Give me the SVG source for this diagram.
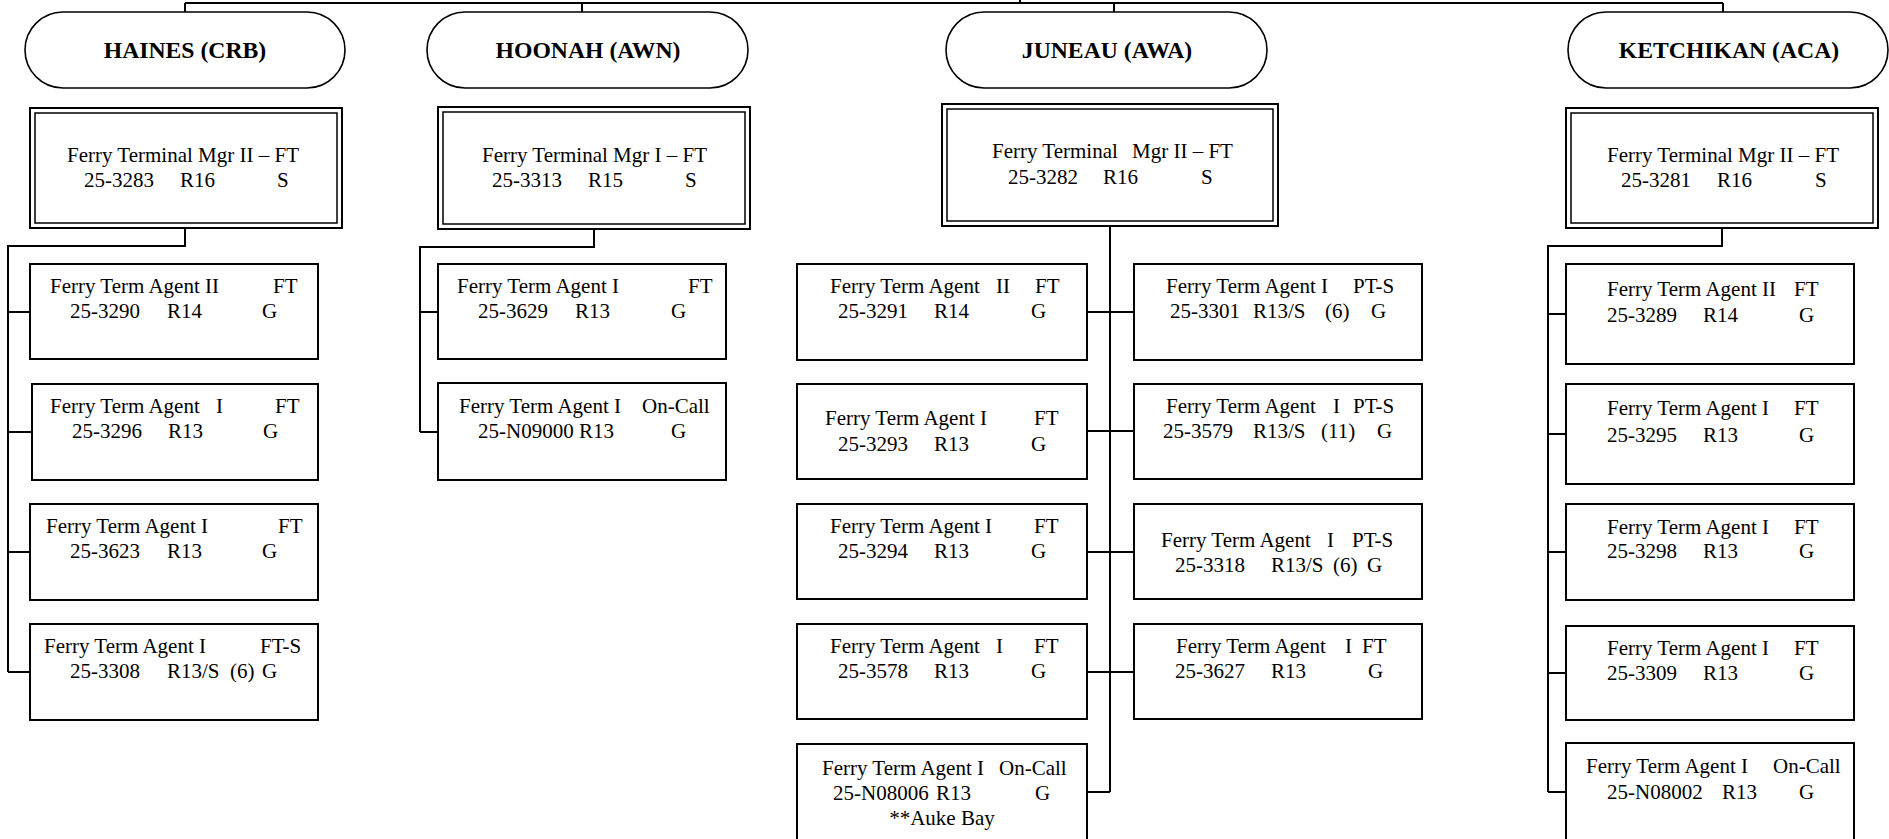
<svg xmlns="http://www.w3.org/2000/svg" width="1889" height="839" viewBox="0 0 1889 839">
<style>
.bg{fill:#fff}
.pill{fill:#fff;stroke:#000;stroke-width:1.6}
.box{fill:#fff;stroke:#000;stroke-width:2}
.dbl{fill:#fff;stroke:#000;stroke-width:2}
.dbli{fill:none;stroke:#000;stroke-width:1.5}
.ln{fill:none;stroke:#000;stroke-width:2}
text{font-family:"Liberation Serif","Times New Roman",serif;font-size:21px;fill:#000}
.hd{font-weight:bold;font-size:23.7px;text-anchor:middle}
</style>
<rect class="bg" x="0" y="0" width="1889" height="839"/>
<g id="connectors">
<path class="ln" d="M185,3 H1723 M1020,0 V3 M185,3 V12 M582,3 V12 M1114,3 V12 M1723,3 V12"/>
<path class="ln" d="M185,228 V246 H8 V672 M8,312 H30 M8,432 H32 M8,552 H30 M8,672 H30"/>
<path class="ln" d="M594,229 V247 H420 V432 M420,312 H438 M420,432 H438"/>
<path class="ln" d="M1110,226 V792 M1087,312 H1134 M1087,431 H1134 M1087,552 H1134 M1087,672 H1134 M1087,792 H1110"/>
<path class="ln" d="M1722,228 V246 H1548 V792 M1548,314 H1566 M1548,434 H1566 M1548,552 H1566 M1548,673 H1566 M1548,792 H1566"/>
</g>
<g id="haines">
<rect class="pill" x="25" y="12" width="320" height="76" rx="38"/>
<text class="hd" x="185" y="58">HAINES (CRB)</text>
</g>
<g id="haines-mgr">
<rect class="dbl" x="30" y="108" width="312" height="120"/>
<rect class="dbli" x="35" y="113" width="302" height="110"/>
<text x="67" y="162">Ferry Terminal Mgr II – FT</text>
<text y="187"><tspan x="84">25-3283</tspan><tspan x="180">R16</tspan><tspan x="277">S</tspan></text>
</g>
<g id="haines-3290">
<rect class="box" x="30" y="264" width="288" height="95"/>
<text y="293"><tspan x="50">Ferry Term Agent II</tspan><tspan x="273">FT</tspan></text>
<text y="318"><tspan x="70">25-3290</tspan><tspan x="167">R14</tspan><tspan x="262">G</tspan></text>
</g>
<g id="haines-3296">
<rect class="box" x="32" y="384" width="286" height="96"/>
<text y="413"><tspan x="50">Ferry Term Agent</tspan><tspan x="216">I</tspan><tspan x="275">FT</tspan></text>
<text y="438"><tspan x="72">25-3296</tspan><tspan x="168">R13</tspan><tspan x="263">G</tspan></text>
</g>
<g id="haines-3623">
<rect class="box" x="30" y="504" width="288" height="96"/>
<text y="533"><tspan x="46">Ferry Term Agent I</tspan><tspan x="278">FT</tspan></text>
<text y="558"><tspan x="70">25-3623</tspan><tspan x="167">R13</tspan><tspan x="262">G</tspan></text>
</g>
<g id="haines-3308">
<rect class="box" x="30" y="624" width="288" height="96"/>
<text y="653"><tspan x="44">Ferry Term Agent I</tspan><tspan x="260">FT-S</tspan></text>
<text y="678"><tspan x="70">25-3308</tspan><tspan x="167">R13/S</tspan><tspan x="230">(6)</tspan><tspan x="262">G</tspan></text>
</g>
<g id="hoonah">
<rect class="pill" x="427" y="12" width="321" height="76" rx="38"/>
<text class="hd" x="588" y="58">HOONAH (AWN)</text>
</g>
<g id="hoonah-mgr">
<rect class="dbl" x="438" y="107" width="312" height="122"/>
<rect class="dbli" x="443" y="112" width="302" height="112"/>
<text x="482" y="162">Ferry Terminal Mgr I – FT</text>
<text y="187"><tspan x="492">25-3313</tspan><tspan x="588">R15</tspan><tspan x="685">S</tspan></text>
</g>
<g id="hoonah-3629">
<rect class="box" x="438" y="264" width="288" height="95"/>
<text y="293"><tspan x="457">Ferry Term Agent I</tspan><tspan x="688">FT</tspan></text>
<text y="318"><tspan x="478">25-3629</tspan><tspan x="575">R13</tspan><tspan x="671">G</tspan></text>
</g>
<g id="hoonah-n09000">
<rect class="box" x="438" y="383" width="288" height="97"/>
<text y="413"><tspan x="459">Ferry Term Agent I</tspan><tspan x="642">On-Call</tspan></text>
<text y="438"><tspan x="478">25-N09000 R13</tspan><tspan x="671">G</tspan></text>
</g>
<g id="juneau">
<rect class="pill" x="946" y="12" width="321" height="76" rx="38"/>
<text class="hd" x="1107" y="58">JUNEAU (AWA)</text>
</g>
<g id="juneau-mgr">
<rect class="dbl" x="942" y="104" width="336" height="122"/>
<rect class="dbli" x="947" y="109" width="326" height="112"/>
<text y="158"><tspan x="992">Ferry Terminal</tspan><tspan x="1132">Mgr II – FT</tspan></text>
<text y="184"><tspan x="1008">25-3282</tspan><tspan x="1103">R16</tspan><tspan x="1201">S</tspan></text>
</g>
<g id="juneau-3291">
<rect class="box" x="797" y="264" width="290" height="96"/>
<text y="293"><tspan x="830">Ferry Term Agent</tspan><tspan x="996">II</tspan><tspan x="1035">FT</tspan></text>
<text y="318"><tspan x="838">25-3291</tspan><tspan x="934">R14</tspan><tspan x="1031">G</tspan></text>
</g>
<g id="juneau-3301">
<rect class="box" x="1134" y="264" width="288" height="96"/>
<text y="293"><tspan x="1166">Ferry Term Agent I</tspan><tspan x="1353">PT-S</tspan></text>
<text y="318"><tspan x="1170">25-3301</tspan><tspan x="1253">R13/S</tspan><tspan x="1325">(6)</tspan><tspan x="1371">G</tspan></text>
</g>
<g id="juneau-3293">
<rect class="box" x="797" y="384" width="290" height="95"/>
<text y="425"><tspan x="825">Ferry Term Agent I</tspan><tspan x="1034">FT</tspan></text>
<text y="451"><tspan x="838">25-3293</tspan><tspan x="934">R13</tspan><tspan x="1031">G</tspan></text>
</g>
<g id="juneau-3579">
<rect class="box" x="1134" y="384" width="288" height="95"/>
<text y="413"><tspan x="1166">Ferry Term Agent</tspan><tspan x="1333">I</tspan><tspan x="1353">PT-S</tspan></text>
<text y="438"><tspan x="1163">25-3579</tspan><tspan x="1253">R13/S</tspan><tspan x="1321">(11)</tspan><tspan x="1377">G</tspan></text>
</g>
<g id="juneau-3294">
<rect class="box" x="797" y="504" width="290" height="95"/>
<text y="533"><tspan x="830">Ferry Term Agent I</tspan><tspan x="1034">FT</tspan></text>
<text y="558"><tspan x="838">25-3294</tspan><tspan x="934">R13</tspan><tspan x="1031">G</tspan></text>
</g>
<g id="juneau-3318">
<rect class="box" x="1134" y="504" width="288" height="95"/>
<text y="547"><tspan x="1161">Ferry Term Agent</tspan><tspan x="1327">I</tspan><tspan x="1352">PT-S</tspan></text>
<text y="572"><tspan x="1175">25-3318</tspan><tspan x="1271">R13/S</tspan><tspan x="1333">(6)</tspan><tspan x="1367">G</tspan></text>
</g>
<g id="juneau-3578">
<rect class="box" x="797" y="624" width="290" height="95"/>
<text y="653"><tspan x="830">Ferry Term Agent</tspan><tspan x="996">I</tspan><tspan x="1034">FT</tspan></text>
<text y="678"><tspan x="838">25-3578</tspan><tspan x="934">R13</tspan><tspan x="1031">G</tspan></text>
</g>
<g id="juneau-3627">
<rect class="box" x="1134" y="624" width="288" height="95"/>
<text y="653"><tspan x="1176">Ferry Term Agent</tspan><tspan x="1345">I</tspan><tspan x="1362">FT</tspan></text>
<text y="678"><tspan x="1175">25-3627</tspan><tspan x="1271">R13</tspan><tspan x="1368">G</tspan></text>
</g>
<g id="juneau-n08006">
<rect class="box" x="797" y="744" width="290" height="110"/>
<text y="775"><tspan x="822">Ferry Term Agent I</tspan><tspan x="999">On-Call</tspan></text>
<text y="800"><tspan x="833">25-N08006</tspan><tspan x="936">R13</tspan><tspan x="1035">G</tspan></text>
<text x="942" y="825" text-anchor="middle">**Auke Bay</text>
</g>
<g id="ketchikan">
<rect class="pill" x="1568" y="12" width="320" height="76" rx="38"/>
<text class="hd" x="1729" y="58">KETCHIKAN (ACA)</text>
</g>
<g id="ketchikan-mgr">
<rect class="dbl" x="1566" y="108" width="312" height="120"/>
<rect class="dbli" x="1571" y="113" width="302" height="110"/>
<text x="1607" y="162">Ferry Terminal Mgr II – FT</text>
<text y="187"><tspan x="1621">25-3281</tspan><tspan x="1717">R16</tspan><tspan x="1815">S</tspan></text>
</g>
<g id="ketchikan-3289">
<rect class="box" x="1566" y="264" width="288" height="100"/>
<text y="296"><tspan x="1607">Ferry Term Agent II</tspan><tspan x="1794">FT</tspan></text>
<text y="322"><tspan x="1607">25-3289</tspan><tspan x="1703">R14</tspan><tspan x="1799">G</tspan></text>
</g>
<g id="ketchikan-3295">
<rect class="box" x="1566" y="384" width="288" height="100"/>
<text y="415"><tspan x="1607">Ferry Term Agent I</tspan><tspan x="1794">FT</tspan></text>
<text y="442"><tspan x="1607">25-3295</tspan><tspan x="1703">R13</tspan><tspan x="1799">G</tspan></text>
</g>
<g id="ketchikan-3298">
<rect class="box" x="1566" y="504" width="288" height="96"/>
<text y="534"><tspan x="1607">Ferry Term Agent I</tspan><tspan x="1794">FT</tspan></text>
<text y="558"><tspan x="1607">25-3298</tspan><tspan x="1703">R13</tspan><tspan x="1799">G</tspan></text>
</g>
<g id="ketchikan-3309">
<rect class="box" x="1566" y="626" width="288" height="94"/>
<text y="655"><tspan x="1607">Ferry Term Agent I</tspan><tspan x="1794">FT</tspan></text>
<text y="680"><tspan x="1607">25-3309</tspan><tspan x="1703">R13</tspan><tspan x="1799">G</tspan></text>
</g>
<g id="ketchikan-n08002">
<rect class="box" x="1566" y="743" width="288" height="110"/>
<text y="773"><tspan x="1586">Ferry Term Agent I</tspan><tspan x="1773">On-Call</tspan></text>
<text y="799"><tspan x="1607">25-N08002</tspan><tspan x="1722">R13</tspan><tspan x="1799">G</tspan></text>
</g>
</svg>
